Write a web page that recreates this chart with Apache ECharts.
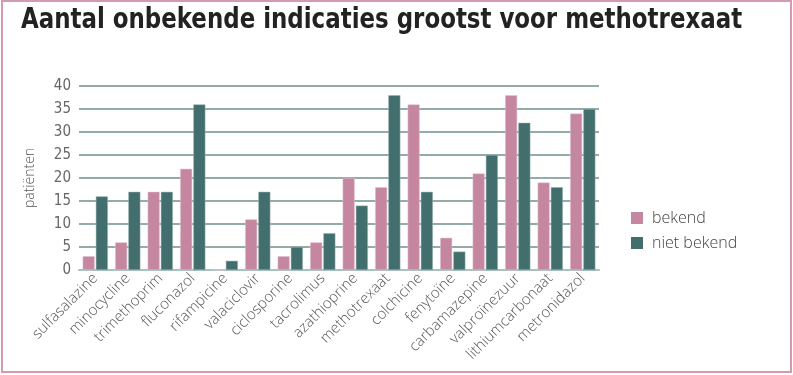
<!DOCTYPE html>
<html>
<head>
<meta charset="utf-8">
<script src="https://cdn.jsdelivr.net/npm/echarts@6/dist/echarts.min.js"></script>
<style>
  html, body { margin: 0; padding: 0; background: #fff; }
  #chart { width: 793px; height: 375px; }
</style>
</head>
<body>
<div id="chart"></div>
<script>
const categories = ['sulfasalazine', 'minocycline', 'trimethoprim', 'fluconazol', 'rifampicine',
  'valaciclovir', 'ciclosporine', 'tacrolimus', 'azathioprine', 'methotrexaat', 'colchicine',
  'fenytoïne', 'carbamazepine', 'valproïnezuur', 'lithiumcarbonaat', 'metronidazol']
const bekend = [3, 6, 17, 22, 0, 11, 3, 6, 20, 18, 36, 7, 21, 38, 19, 34]
const nietBekend = [16, 17, 17, 36, 2, 17, 5, 8, 14, 38, 17, 4, 25, 32, 18, 35]
const titleText = 'Aantal onbekende indicaties grootst voor methotrexaat'

const chart = echarts.init(document.getElementById('chart'))

const option = {
  animation: false,
  graphic: [
    {
      type: 'rect',
      shape: { x: 2, y: 1, width: 789, height: 371 },
      style: { fill: 'none', stroke: '#d39bb3', lineWidth: 2 }
    },
    {
      // titel, horizontaal wat smaller zoals het origineel
      type: 'text',
      x: 21,
      y: 7,
      scaleX: 0.91,
      style: {
        text: titleText,
        font: 'bold 28px "DejaVu Sans Condensed", sans-serif',
        fill: '#222'
      }
    }
  ],
  legend: {
    orient: 'vertical',
    left: 626,
    top: 205,
    itemWidth: 12,
    itemHeight: 12,
    itemGap: 9,
    icon: 'rect',
    itemStyle: { borderWidth: 0 },
    data: ['bekend', 'niet bekend'],
    textStyle: { fontFamily: 'Open Sans', fontWeight: 300, fontSize: 16, color: '#444', padding: [0, 0, 0, 4] }
  },
  grid: { left: 79, right: 194, top: 86, bottom: 105 },
  xAxis: {
    type: 'category',
    data: categories,
    axisTick: { show: false },
    axisLine: { lineStyle: { color: '#a9c2bf', width: 2 } },
    axisLabel: {
      rotate: 45,
      interval: 0,
      margin: 6,
      fontFamily: 'Open Sans',
      fontWeight: 300,
      fontSize: 15,
      color: '#555'
    }
  },
  yAxis: {
    type: 'value',
    min: 0,
    max: 40,
    interval: 5,
    name: 'patiënten',
    nameLocation: 'middle',
    nameGap: 42,
    nameTextStyle: { fontFamily: 'Open Sans', fontWeight: 300, fontSize: 14, color: '#555' },
    axisLine: { show: false },
    axisTick: { show: false },
    axisLabel: {
      fontFamily: '"DejaVu Sans Condensed", sans-serif',
      fontSize: 15,
      color: '#666',
      margin: 8
    },
    splitLine: { lineStyle: { color: '#6f918d', width: 1.5 } }
  },
  series: [
    {
      name: 'bekend',
      type: 'bar',
      data: bekend,
      barWidth: 12,
      barGap: '10%',
      itemStyle: { color: '#c5879f', borderColor: '#e3c3d0', borderWidth: 0.5 }
    },
    {
      name: 'niet bekend',
      type: 'bar',
      data: nietBekend,
      barWidth: 12,
      barGap: '10%',
      itemStyle: { color: '#426f6d', borderColor: '#9bb5b3', borderWidth: 0.5 }
    }
  ]
}

chart.setOption(option)
</script>
</body>
</html>
